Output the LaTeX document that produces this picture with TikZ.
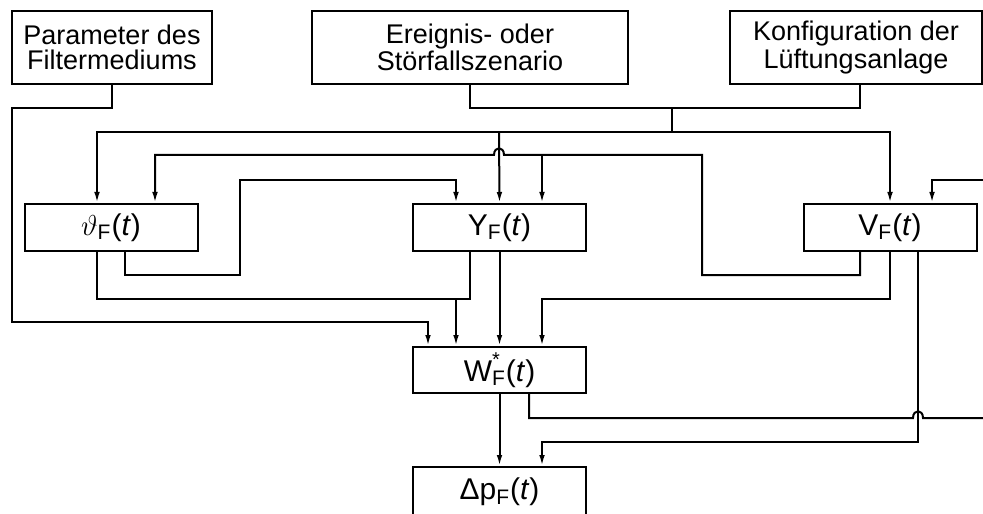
\documentclass[tikz,border=0pt]{standalone}
\usepackage{fontspec}
\setmainfont{Liberation Sans}
\usetikzlibrary{arrows.meta}

\begin{document}
\begin{tikzpicture}[x=0.5pt,y=-0.5pt,
    blk/.style={draw,line width=1pt,inner sep=0pt,align=center},
    src/.style={blk,minimum height=36.5pt,font=\fontsize{13.5}{12.5}\selectfont},
    var/.style={blk,minimum width=86.5pt,minimum height=23.5pt,font=\fontsize{15}{15}\selectfont},
    l/.style={line width=1pt},
    a/.style={l,-{Latex[length=5.5pt,width=2.8pt]}}]
    \clip (0,0) rectangle (983,513);
    % Eingangsgroessen
    \node[src,minimum width=100pt] (param) at (112,47.5) {Parameter des\\Filtermediums};
    \node[src,minimum width=158pt] (event) at (470,47.5) {Ereignis- oder\\Störfallszenario};
    \node[src,minimum width=126pt] (konfig) at (856,47.5) {Konfiguration der\\Lüftungsanlage};
    % Zustandsgroessen
    \node[var] (theta) at (111,227.5) {$\vartheta$\textsubscript{F}(\textit{t})};
    \node[var] (Y) at (499.5,227.5) {Y\textsubscript{F}(\textit{t})};
    \node[var] (V) at (890,227.5) {V\textsubscript{F}(\textit{t})};
    \node[var,minimum height=23pt] (W) at (499.5,370) {W\rlap{\raisebox{0.5em}{\normalsize *}}\textsubscript{F}(\textit{t})};
    \node[var,minimum height=25pt] (dp) at (499.5,492) {Δp\textsubscript{F}(\textit{t})};
    \coordinate (tap) at (672,108);
    \coordinate (bus) at (672,132);
    \coordinate (outR) at (990,418);
    \coordinate (inR) at (990,180);
    % Verbindungen
    \draw[a] (param.south) |- (12,108) |- (428,322) -- (428,0 |- W.north);
    \draw[l] (event.south) |- (860,108) -- (860,0 |- konfig.south);
    \draw[l] (tap) -- (bus);
    \draw[a] (bus) -| (97,0 |- theta.north);
    \draw[a] (bus) -| (V.north);
    \draw[a] (499,132) -- (Y.north);
    \draw[a] (860,0 |- V.south) |- (702,275) |- (504,155) .. controls (504,146) and (494,146) .. (494,155) -| (155,0 |- theta.north);
    \draw[a] (542,155) -- (542,0 |- Y.north);
    \draw[a] (125,0 |- theta.south) |- (240,275) |- (456,180) -- (456,0 |- Y.north);
    \draw[a] (97,0 |- theta.south) |- (456,299) -- (456,0 |- W.north);
    \draw[l] (470,0 |- Y.south) |- (456,299);
    \draw[a] (Y) -- (W);
    \draw[a] (V.south) |- (542,299) -- (542,0 |- W.north);
    \draw[a] (918,0 |- V.south) |- (542,442) -- (542,0 |- dp.north);
    \draw[l] (529,0 |- W.south) |- (913,418) .. controls (913,409) and (923,409) .. (923,418) -- (outR);
    \draw[a] (inR) -| (932,0 |- V.north);
    \draw[a] (W) -- (dp);
\end{tikzpicture}
\end{document}
